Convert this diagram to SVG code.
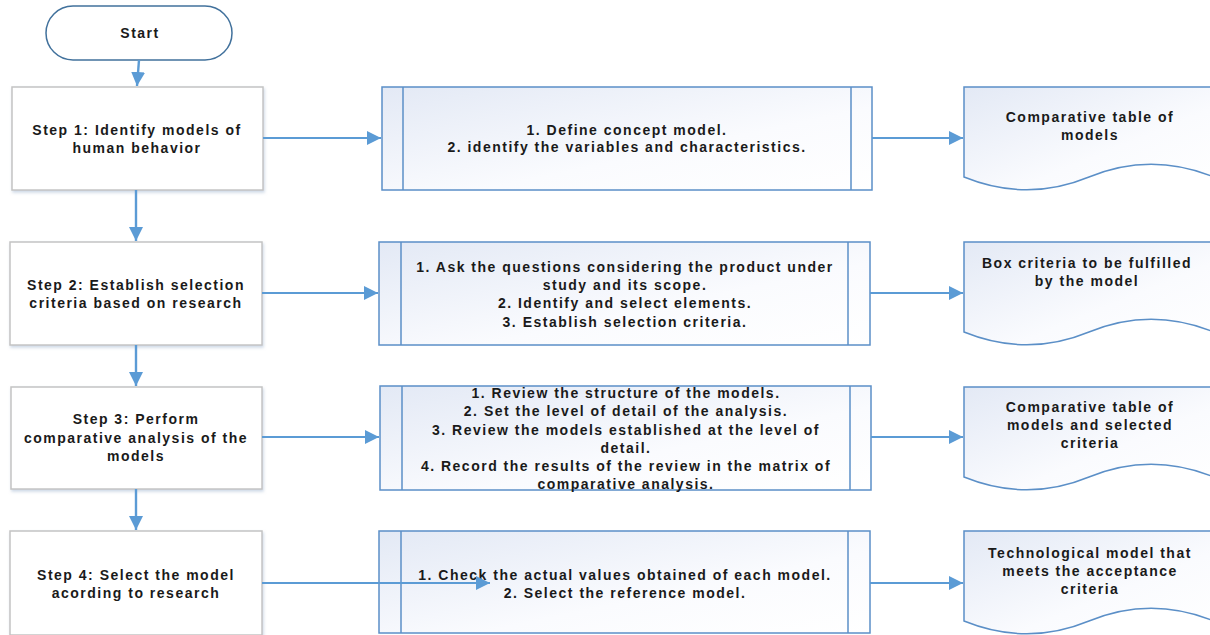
<svg xmlns="http://www.w3.org/2000/svg" width="1210" height="635" viewBox="0 0 1210 635">
<style>
text{font-family:"Liberation Sans",Arial,sans-serif;font-weight:bold;font-size:14px;letter-spacing:1.5px;fill:#1a1a1a;text-anchor:middle}
.step{fill:#fff;stroke:#c4c4c4;stroke-width:1.5;filter:url(#sh)}
.proc{fill:url(#g);stroke:#5b8fc7;stroke-width:1.5}
.div{stroke:#5b8fc7;stroke-width:1.5}
.doc{fill:url(#g);stroke:#5b8fc7;stroke-width:1.5}
.c{fill:none;stroke:#5b9bd5;stroke-width:1.8;marker-end:url(#ah)}
.v{stroke-width:2.4}
</style>
<defs>
<linearGradient id="g" x1="0" y1="0" x2="1" y2="1">
<stop offset="0" stop-color="#e3e9f5"/>
<stop offset="0.6" stop-color="#fafbfe"/>
<stop offset="1" stop-color="#ffffff"/>
</linearGradient>
<filter id="sh" x="-5%" y="-5%" width="115%" height="120%">
<feDropShadow dx="1" dy="2" stdDeviation="1.5" flood-color="#9fb3cf" flood-opacity="0.5"/>
</filter>
<marker id="ah" markerUnits="userSpaceOnUse" markerWidth="14" markerHeight="14" viewBox="0 0 14 14" refX="14" refY="7" orient="auto">
<path d="M0,0 L14,7 L0,14 Z" fill="#5b9bd5"/>
</marker>
</defs>

<g id="start">
<rect x="46" y="6" width="186" height="54" rx="27" ry="27" fill="#fff" stroke="#41719c" stroke-width="1.5"/>
<text x="140" y="38">Start</text>
</g>

<g id="step1">
<rect class="step" x="12" y="87" width="251" height="103"/>
<text x="137" y="135">Step 1: Identify models of</text>
<text x="137" y="153">human behavior</text>
</g>
<g id="step2">
<rect class="step" x="10" y="242" width="252" height="103"/>
<text x="136" y="290">Step 2: Establish selection</text>
<text x="136" y="308">criteria based on research</text>
</g>
<g id="step3">
<rect class="step" x="11" y="387" width="251" height="102"/>
<text x="136" y="424">Step 3: Perform</text>
<text x="136" y="443">comparative analysis of the</text>
<text x="136" y="461">models</text>
</g>
<g id="step4">
<rect class="step" x="10" y="531" width="252" height="104"/>
<text x="136" y="580">Step 4: Select the model</text>
<text x="136" y="598">acording to research</text>
</g>

<g id="proc1">
<rect class="proc" x="382" y="87" width="490" height="103"/>
<line class="div" x1="403" y1="87" x2="403" y2="190"/>
<line class="div" x1="851" y1="87" x2="851" y2="190"/>
<text x="627" y="135">1. Define concept model.</text>
<text x="627" y="152">2. identify the variables and characteristics.</text>
</g>
<g id="proc2">
<rect class="proc" x="379" y="242" width="491" height="103"/>
<line class="div" x1="401" y1="242" x2="401" y2="345"/>
<line class="div" x1="848" y1="242" x2="848" y2="345"/>
<text x="625" y="272">1. Ask the questions considering the product under</text>
<text x="625" y="290">study and its scope.</text>
<text x="625" y="308">2. Identify and select elements.</text>
<text x="625" y="327">3. Establish selection criteria.</text>
</g>
<g id="proc3">
<rect class="proc" x="380" y="386" width="491" height="104"/>
<line class="div" x1="402" y1="386" x2="402" y2="490"/>
<line class="div" x1="850" y1="386" x2="850" y2="490"/>
<text x="626" y="398">1. Review the structure of the models.</text>
<text x="626" y="416">2. Set the level of detail of the analysis.</text>
<text x="626" y="435">3. Review the models established at the level of</text>
<text x="626" y="453">detail.</text>
<text x="626" y="471">4. Record the results of the review in the matrix of</text>
<text x="626" y="489">comparative analysis.</text>
</g>
<g id="proc4">
<rect class="proc" x="379" y="531" width="491" height="102"/>
<line class="div" x1="401" y1="531" x2="401" y2="633"/>
<line class="div" x1="848" y1="531" x2="848" y2="633"/>
<text x="625" y="580">1. Check the actual values obtained of each model.</text>
<text x="625" y="598">2. Select the reference model.</text>
</g>

<g id="doc1">
<path class="doc" d="M964,87 H1214 V177 C1172,160 1130,160 1089,177 C1048,194 1006,194 964,177 Z"/>
<text x="1090" y="122">Comparative table of</text>
<text x="1090" y="140">models</text>
</g>
<g id="doc2">
<path class="doc" d="M964,242 H1214 V332 C1172,315 1130,315 1089,332 C1048,349 1006,349 964,332 Z"/>
<text x="1087" y="268">Box criteria to be fulfilled</text>
<text x="1087" y="286">by the model</text>
</g>
<g id="doc3">
<path class="doc" d="M964,387 H1214 V477 C1172,460 1130,460 1089,477 C1048,494 1006,494 964,477 Z"/>
<text x="1090" y="412">Comparative table of</text>
<text x="1090" y="430">models and selected</text>
<text x="1090" y="448">criteria</text>
</g>
<g id="doc4">
<path class="doc" d="M964,531 H1214 V621 C1172,604 1130,604 1089,621 C1048,638 1006,638 964,621 Z"/>
<text x="1090" y="558">Technological model that</text>
<text x="1090" y="576">meets the acceptance</text>
<text x="1090" y="594">criteria</text>
</g>

<g id="connectors">
<path class="c v" d="M139,60 L137,86"/>
<path class="c" d="M263,138 L381,138"/>
<path class="c v" d="M136,190 L136,241"/>
<path class="c" d="M262,293 L378,293"/>
<path class="c v" d="M136,345 L136,386"/>
<path class="c" d="M262,437 L379,437"/>
<path class="c v" d="M136,489 L136,530"/>
<path class="c" d="M262,583 L490,583"/>
<path class="c" d="M872,138 L963,138"/>
<path class="c" d="M870,293 L963,293"/>
<path class="c" d="M871,437 L963,437"/>
<path class="c" d="M870,583 L963,583"/>
</g>
</svg>
